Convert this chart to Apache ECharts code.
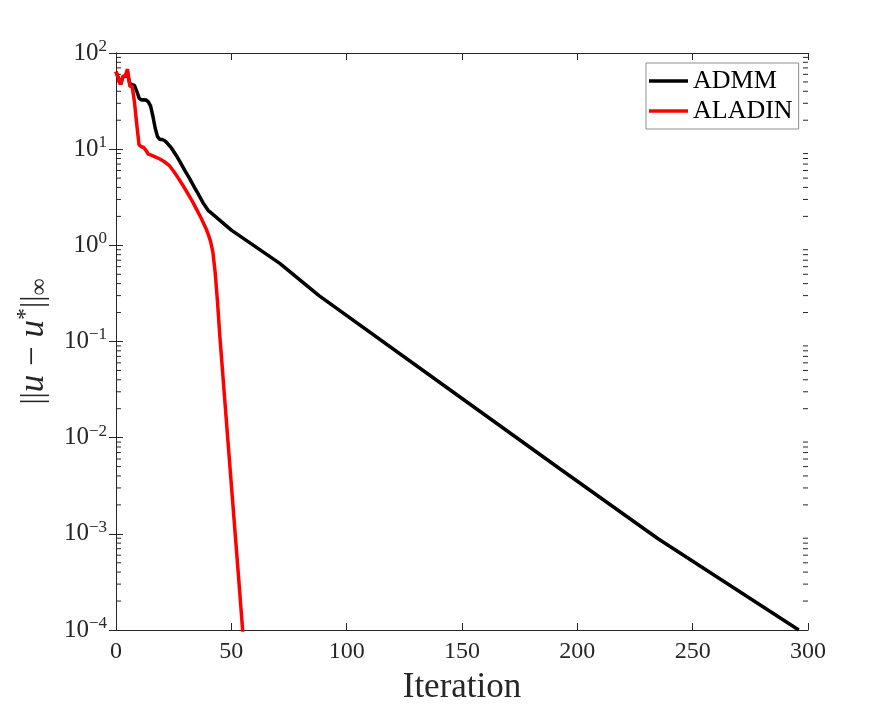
<!DOCTYPE html>
<html>
<head>
<meta charset="utf-8">
<script src="https://cdn.jsdelivr.net/npm/echarts@6/dist/echarts.min.js"></script>
<style>
    html, body { margin: 0; padding: 0; background: #fff; }
    #main { width: 893px; height: 710px; }
</style>
</head>
<body>
<div id="main"></div>
<script>
// ADMM residual
var admmIter = [0, 2, 3, 4, 5, 6, 7, 8, 9, 10, 11, 12, 13, 14, 15, 16, 17, 18, 19, 20, 21, 22, 24, 26, 28, 30, 32, 34, 36, 38, 40, 41, 42, 50, 71, 88, 136, 193, 235, 296];
var admmVal = [64, 47, 57, 57, 60, 48, 47, 46, 40, 34, 32.5, 32.7, 32.5, 31, 28, 22, 16.5, 13.5, 12.6, 12.6, 12.3, 11.7, 10.3, 8.7, 7.2, 5.9, 4.9, 4.0, 3.3, 2.7, 2.3, 2.2, 2.1, 1.44, 0.65, 0.30, 0.0446, 0.00464, 0.00089, 0.0001];

// ALADIN residual
var aladinIter = [0, 1, 2, 3, 4, 5, 6, 7, 8, 9, 10, 11, 12, 13, 14, 15, 17, 19, 21, 23, 25, 27, 29, 31, 33, 35, 37, 39, 40, 41, 42, 43, 44, 45, 47, 49, 51, 53, 55];
var aladinVal = [64, 55, 47, 57, 58, 68, 45, 45, 31, 18, 11.1, 10.6, 10.4, 9.7, 8.9, 8.7, 8.3, 7.9, 7.4, 6.8, 5.9, 5.0, 4.2, 3.5, 2.9, 2.35, 1.9, 1.5, 1.3, 1.1, 0.85, 0.52, 0.26, 0.115, 0.0275, 0.0066, 0.0016, 0.00039, 0.000093];

var xTicks = [0, 50, 100, 150, 200, 250, 300];
var minorMult = [2, 3, 4, 5, 6, 7, 8, 9];
var minorDecades = [-4, -3, -2, -1, 0, 1];

var serif = '"Liberation Serif", "DejaVu Serif", serif';
var axisColor = '#262626';

function zip(a, b) {
    var out = [];
    for (var i = 0; i < a.length; i++) out.push([a[i], b[i]]);
    return out;
}

var minorData = [];
minorDecades.forEach(function (d) {
    minorMult.forEach(function (m) {
        minorData.push([0, m * Math.pow(10, d)]);
    });
});

var chart = echarts.init(document.getElementById('main'));

var xBase = {
    type: 'value',
    min: xTicks[0],
    max: xTicks[xTicks.length - 1],
    interval: 50,
    axisLine: { show: true, lineStyle: { color: axisColor, width: 1 } },
    axisTick: { show: true, inside: true, length: 7, lineStyle: { color: axisColor } },
    splitLine: { show: false }
};
var yBase = {
    type: 'log',
    logBase: 10,
    min: 0.0001,
    max: 100,
    axisLine: { show: true, lineStyle: { color: axisColor, width: 1 } },
    axisTick: { show: true, inside: true, length: 7, lineStyle: { color: axisColor } },
    splitLine: { show: false }
};

var option = {
    backgroundColor: '#fff',
    animation: false,
    grid: { left: 116, right: 85, top: 53, bottom: 80, containLabel: false },
    legend: {
        data: ['ADMM', 'ALADIN'],
        orient: 'vertical',
        left: 646,
        top: 63,
        icon: 'rect',
        itemWidth: 39,
        itemHeight: 3.5,
        itemGap: 4,
        padding: [5, 6, 5, 3],
        borderColor: '#8f8f8f',
        borderWidth: 1,
        borderRadius: 0,
        backgroundColor: '#fff',
        textStyle: { fontFamily: serif, fontSize: 26, color: '#000', lineHeight: 26 }
    }
};

option.xAxis = [
    Object.assign({}, xBase, {
        position: 'bottom',
        name: 'Iteration',
        nameLocation: 'middle',
        nameGap: 40,
        nameTextStyle: { fontFamily: serif, fontSize: 35, color: axisColor },
        axisLabel: { margin: 10, fontFamily: serif, fontSize: 24, color: axisColor }
    }),
    Object.assign({}, xBase, { position: 'top', axisLabel: { show: false } })
];

option.yAxis = [
    Object.assign({}, yBase, {
        position: 'left',
        name: '{b|||}{i|u}{n| − }{i|u}{p|*}{b|||}{q|∞}',
        nameLocation: 'middle',
        nameRotate: 90,
        nameGap: 62,
        nameTextStyle: {
            color: axisColor,
            rich: {
                b: { fontFamily: serif, fontSize: 31, color: axisColor },
                n: { fontFamily: serif, fontSize: 35, color: axisColor },
                i: { fontFamily: serif, fontSize: 35, fontStyle: 'italic', color: axisColor },
                p: { fontFamily: serif, fontSize: 24, color: axisColor, padding: [0, 0, 16, 0] },
                q: { fontFamily: serif, fontSize: 24, color: axisColor, padding: [12, 0, 0, 0] }
            }
        },
        axisLabel: {
            margin: 9,
            formatter: function (v) {
                var e = Math.round(Math.log(v) / Math.LN10);
                return '{b|10}{s|' + (e < 0 ? '\u2212' + (-e) : e) + '}';
            },
            rich: {
                b: { fontFamily: serif, fontSize: 25, color: axisColor },
                s: { fontFamily: serif, fontSize: 17, color: axisColor, padding: [0, 0, 13, 0] }
            }
        }
    }),
    Object.assign({}, yBase, { position: 'right', axisLabel: { show: false } })
];

option.series = [
    {
        name: 'ADMM',
        type: 'line',
        data: zip(admmIter, admmVal),
        showSymbol: false,
        symbol: 'none',
        lineStyle: { color: '#000', width: 3.5 },
        itemStyle: { color: '#000' },
        z: 3
    },
    {
        name: 'ALADIN',
        type: 'line',
        data: zip(aladinIter, aladinVal),
        showSymbol: false,
        symbol: 'none',
        lineStyle: { color: '#ff0000', width: 3.5 },
        itemStyle: { color: '#ff0000' },
        z: 4
    },
    //log minor ticks on left and right frame
    {
        type: 'custom',
        silent: true,
        data: minorData,
        encode: { x: 0, y: 1 },
        clip: false,
        z: 1,
        renderItem: function (params, api) {
            var v = api.value(1);
            var pl = api.coord([xTicks[0], v]);
            var pr = api.coord([xTicks[xTicks.length - 1], v]);
            var st = { stroke: axisColor, lineWidth: 1 };
            return {
                type: 'group',
                children: [
                    { type: 'line', shape: { x1: pl[0], y1: pl[1], x2: pl[0] + 5, y2: pl[1] }, style: st },
                    { type: 'line', shape: { x1: pr[0], y1: pr[1], x2: pr[0] - 5, y2: pr[1] }, style: st }
                ]
            };
        }
    }
];

chart.setOption(option);
</script>
</body>
</html>
